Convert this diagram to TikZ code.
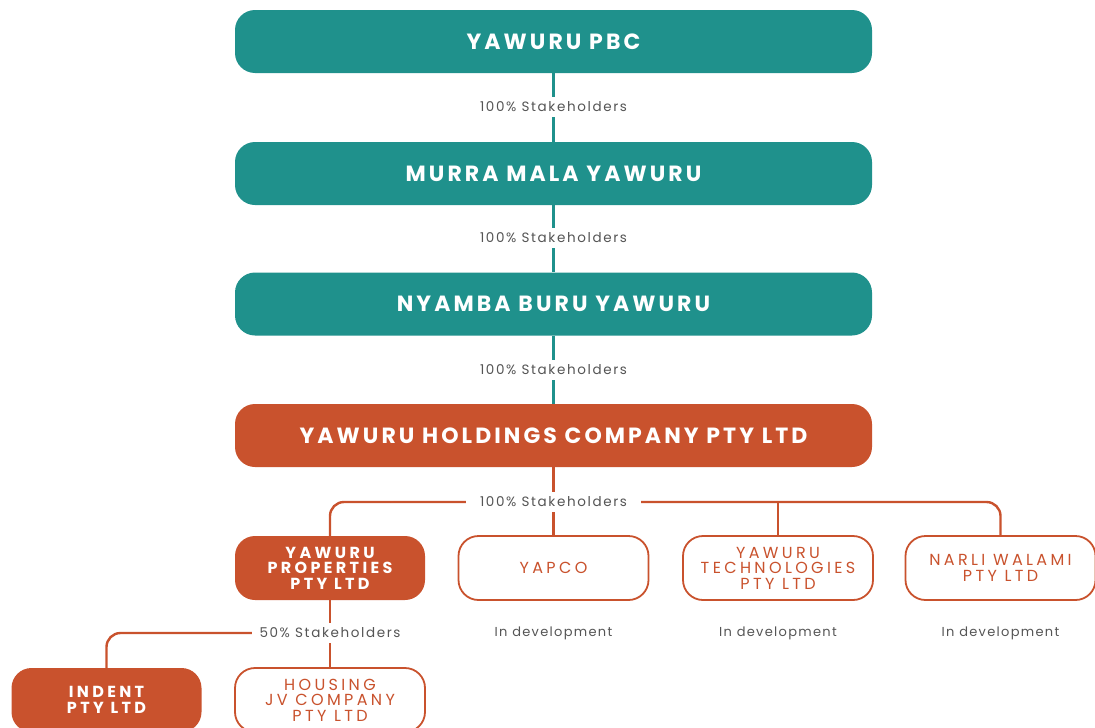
\documentclass[tikz,border=0pt]{standalone}
\usepackage{fontspec}
\setmainfont{Poppins}
\usetikzlibrary{positioning}
\definecolor{yteal}{HTML}{1F918C}
\definecolor{yorange}{HTML}{C9522D}
\definecolor{ygrey}{HTML}{555555}
\def\bigw{637}
\def\bigh{63}
\def\smw{190}
\def\smh{64}
\def\wide#1{\addfontfeatures{LetterSpace=#1}}
\tikzset{
    bigbox/.style={rounded corners=20pt, minimum width=\bigw pt, minimum height=\bigh pt,
        inner sep=0pt, text=white, font=\fontsize{22}{24}\selectfont\bfseries\wide{14}},
    tealbox/.style={bigbox, fill=yteal},
    orangebox/.style={bigbox, fill=yorange},
    smallbox/.style={rounded corners=20pt, minimum width=\smw pt, minimum height=\smh pt,
        inner sep=0pt, align=center, font=\fontsize{16}{15.5}\selectfont\wide{21}},
    fullbox/.style={smallbox, fill=yorange, text=white,
        font=\fontsize{16}{15.5}\selectfont\bfseries\wide{21}},
    openbox/.style={smallbox, draw=yorange, line width=1.8pt, text=yorange, fill=white},
    stakes/.style={fill=white, inner xsep=14pt, inner ysep=5pt, text=ygrey,
        font=\fontsize{13.5}{15}\selectfont\wide{12}},
    devnote/.style={text=ygrey, font=\fontsize{13}{15}\selectfont\wide{10}},
    tealline/.style={draw=yteal, line width=2.4pt},
    orangeline/.style={draw=yorange, line width=2.4pt}
}
\begin{document}
\begin{tikzpicture}[x=1pt, y=-1pt]
    \clip (0,0) rectangle (1095,728);
    % top of the tree
    \node[tealbox] (pbc) at (553.5,41.5) {YAWURU PBC};
    \node[tealbox] (murra) at (553.5,173.5) {MURRA MALA YAWURU};
    \node[tealbox] (nyamba) at (553.5,304) {NYAMBA BURU YAWURU};
    \node[orangebox] (hold) at (553.5,435.5) {YAWURU HOLDINGS COMPANY PTY LTD};

    % companies
    \node[fullbox] (props) at (330,568) {YAWURU\\PROPERTIES\\PTY LTD};
    \node[openbox] (yapco) at (553.5,568) {YAPCO};
    \node[openbox] (tech) at (778,568) {YAWURU\\TECHNOLOGIES\\PTY LTD};
    \node[openbox] (narli) at (1000.5,568) {NARLI WALAMI\\PTY LTD};
    \node[fullbox] (indent) at (106.5,700) {INDENT\\PTY LTD};
    \node[openbox] (housing) at (330,700) {HOUSING\\JV COMPANY\\PTY LTD};

    \coordinate (top1) at (553.5,107);
    \coordinate (top2) at (553.5,238);
    \coordinate (top3) at (553.5,370);
    \coordinate (bus) at (553.5,502);
    \coordinate (half) at (330,633);

    \draw[tealline] (pbc) -- (murra);
    \draw[tealline] (murra) -- (nyamba);
    \draw[tealline] (nyamba) -- (hold);
    \begin{scope}[orangeline]
        \draw (hold) -- (yapco);
        \draw[rounded corners=14pt] (props.north) |- (bus) -| (narli.north);
        \draw (tech.north) -- (tech.north |- bus);
        \draw (props) -- (housing);
        \draw[rounded corners=14pt] (half) -| (indent.north);
    \end{scope}

    \node[stakes] (s1) at (top1) {100\% Stakeholders};
    \node[stakes] (s2) at (top2) {100\% Stakeholders};
    \node[stakes] (s3) at (top3) {100\% Stakeholders};
    \node[stakes] (s4) at (bus) {100\% Stakeholders};
    \node[stakes, inner xsep=8pt] (s5) at (half) {50\% Stakeholders};

    \node[devnote] (d1) at (553.5,633) {In development};
    \node[devnote] (d2) at (778,633) {In development};
    \node[devnote] (d3) at (1000.5,633) {In development};
\end{tikzpicture}
\end{document}
